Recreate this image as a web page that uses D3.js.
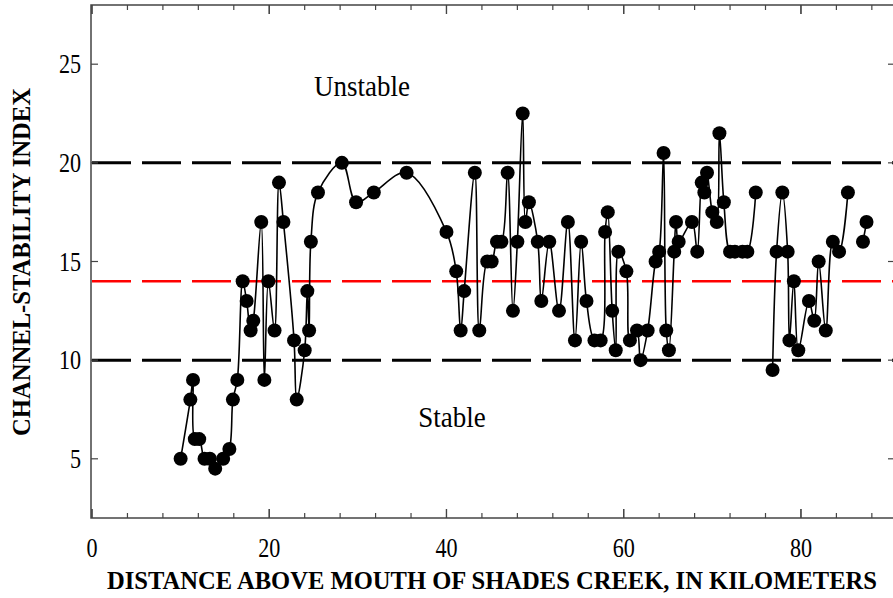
<!DOCTYPE html>
<html>
<head>
<meta charset="utf-8">
<script src="https://cdn.jsdelivr.net/npm/d3@7"></script>
<style>
  html, body { margin: 0; padding: 0; background: #fff; }
  svg { display: block; }
  text { font-family: "Liberation Serif", "Times New Roman", serif; fill: #000; }
</style>
</head>
<body>
<svg id="chart" width="893" height="598"></svg>
<script>
// ---- data ----
const distanceKm = [10.0, 11.1, 11.4, 11.6, 12.1, 12.7, 13.3, 13.9, 14.8, 15.5, 15.9, 16.4, 17.0, 17.45, 17.9, 18.2,
  19.1, 19.45, 19.9, 20.6, 21.1, 21.6, 22.8, 23.1, 24.0, 24.3, 24.5, 24.7, 25.5, 28.2, 29.8, 31.8, 35.5,
  40.0, 41.1, 41.6, 42.0, 43.2, 43.7, 44.6, 45.1, 45.7, 46.2, 46.9, 47.5, 48.0, 48.6, 48.9, 49.3, 50.3,
  50.7, 51.6, 52.7, 53.7, 54.5, 55.2, 55.8, 56.7, 57.4, 57.9, 58.2, 58.7, 59.1, 59.4, 60.3, 60.7, 61.5,
  61.9, 62.7, 63.6, 64.0, 64.5, 64.8, 65.1, 65.7, 65.9, 66.2, 67.7, 68.3, 68.8, 69.1, 69.4, 70.0, 70.5,
  70.8, 71.3, 72.0, 72.55, 73.4, 73.95, 74.9,
  76.8, 77.25, 77.9, 78.5, 78.7, 79.2, 79.7, 80.9, 81.5, 82.0, 82.8, 83.6, 84.3, 85.3,
  87.0, 87.4];
const stabilityIndex = [5, 8, 9, 6, 6, 5, 5, 4.5, 5, 5.5, 8, 9, 14, 13, 11.5, 12,
  17, 9, 14, 11.5, 19, 17, 11, 8, 10.5, 13.5, 11.5, 16, 18.5, 20, 18, 18.5, 19.5,
  16.5, 14.5, 11.5, 13.5, 19.5, 11.5, 15, 15, 16, 16, 19.5, 12.5, 16, 22.5, 17, 18, 16,
  13, 16, 12.5, 17, 11, 16, 13, 11, 11, 16.5, 17.5, 12.5, 10.5, 15.5, 14.5, 11, 11.5,
  10, 11.5, 15, 15.5, 20.5, 11.5, 10.5, 15.5, 17, 16, 17, 15.5, 19, 18.5, 19.5, 17.5, 17,
  21.5, 18, 15.5, 15.5, 15.5, 15.5, 18.5,
  9.5, 15.5, 18.5, 15.5, 11, 14, 10.5, 13, 12, 15, 11.5, 16, 15.5, 18.5,
  16, 17];
// line is broken after these distances (gaps in the surveyed reaches)
const lineBreaksAfterKm = [74.9, 85.3];
const thresholdUnstable = 20;
const thresholdStable = 10;
const thresholdMean = 14;
const xTicksMajor = [0, 20, 40, 60, 80];
const yTicks = [5, 10, 15, 20, 25];
const xDomain = [0, 90.5];
const yDomain = [2, 28];

// ---- layout ----
const svg = d3.select("#chart");
const L = 92, R = 894, T = 5, B = 518;
const x = d3.scaleLinear().domain(xDomain).range([L, R]);
const y = d3.scaleLinear().domain(yDomain).range([B, T]);

const data = distanceKm.map((d, i) => ({ x: d, y: stabilityIndex[i] }));
const segments = [];
let cur = [];
data.forEach(d => {
  cur.push(d);
  if (lineBreaksAfterKm.includes(d.x)) { segments.push(cur); cur = []; }
});
if (cur.length) segments.push(cur);

// threshold lines
const thr = [
  { v: thresholdUnstable, c: "#000", w: 3 },
  { v: thresholdStable, c: "#000", w: 3 },
  { v: thresholdMean, c: "#ff0000", w: 2.5 }
];
svg.selectAll("line.thr").data(thr).join("line")
  .attr("x1", L).attr("x2", R)
  .attr("y1", d => y(d.v)).attr("y2", d => y(d.v))
  .attr("stroke", d => d.c).attr("stroke-width", d => d.w)
  .attr("stroke-dasharray", "39,11");

// frame
svg.append("rect").attr("x", L - 1).attr("y", T).attr("width", R - L + 1).attr("height", B - T)
  .attr("fill", "none").attr("stroke", "#444").attr("stroke-width", 1.5);

// axes with inward ticks
const xMinor = d3.range(0, 91, 4);
const tickG = svg.append("g").attr("stroke", "#444").attr("stroke-width", 1.2);
xMinor.forEach(v => {
  const len = (v % 20 === 0) ? 9 : 5;
  tickG.append("line").attr("x1", x(v)).attr("x2", x(v)).attr("y1", B).attr("y2", B - len);
  tickG.append("line").attr("x1", x(v)).attr("x2", x(v)).attr("y1", T).attr("y2", T + len);
});
xTicksMajor.forEach(v => {
  const len = 9;
  tickG.append("line").attr("x1", x(v)).attr("x2", x(v)).attr("y1", B).attr("y2", B - len);
  tickG.append("line").attr("x1", x(v)).attr("x2", x(v)).attr("y1", T).attr("y2", T + len);
});
yTicks.forEach(v => {
  tickG.append("line").attr("x1", L - 1).attr("x2", L + 6).attr("y1", y(v)).attr("y2", y(v));
  tickG.append("line").attr("x1", R).attr("x2", R - 6).attr("y1", y(v)).attr("y2", y(v));
});

// tick labels (condensed serif)
const sx = 0.82;
xTicksMajor.forEach(v => {
  svg.append("text").attr("transform", `translate(${x(v)},557) scale(${sx},1)`)
    .attr("text-anchor", "middle").attr("font-size", 27).text(v);
});
yTicks.forEach(v => {
  svg.append("text").attr("transform", `translate(81,${y(v) + 9}) scale(${sx},1)`)
    .attr("text-anchor", "end").attr("font-size", 27).text(v);
});

// axis titles
svg.append("text").attr("x", 492).attr("y", 589).attr("text-anchor", "middle")
  .attr("font-size", 25).attr("font-weight", "bold")
  .attr("textLength", 770).attr("lengthAdjust", "spacingAndGlyphs")
  .text("DISTANCE ABOVE MOUTH OF SHADES CREEK, IN KILOMETERS");
svg.append("text").attr("transform", "translate(30,262) rotate(-90)").attr("text-anchor", "middle")
  .attr("font-size", 25).attr("font-weight", "bold")
  .attr("textLength", 348).attr("lengthAdjust", "spacingAndGlyphs")
  .text("CHANNEL-STABILITY INDEX");

// region labels
svg.append("text").attr("transform", "translate(362,96) scale(0.93,1)").attr("text-anchor", "middle")
  .attr("font-size", 29).text("Unstable");
svg.append("text").attr("transform", "translate(452,427) scale(0.93,1)").attr("text-anchor", "middle")
  .attr("font-size", 29).text("Stable");

// data line
const line = d3.line().x(d => x(d.x)).y(d => y(d.y)).curve(d3.curveCatmullRom.alpha(0.5));
svg.selectAll("path.seg").data(segments).join("path")
  .attr("class", "seg").attr("d", line)
  .attr("fill", "none").attr("stroke", "#000").attr("stroke-width", 1.6);

// points
svg.selectAll("circle.pt").data(data).join("circle")
  .attr("class", "pt").attr("cx", d => x(d.x)).attr("cy", d => y(d.y)).attr("r", 7)
  .attr("fill", "#000");
</script>
</body>
</html>
